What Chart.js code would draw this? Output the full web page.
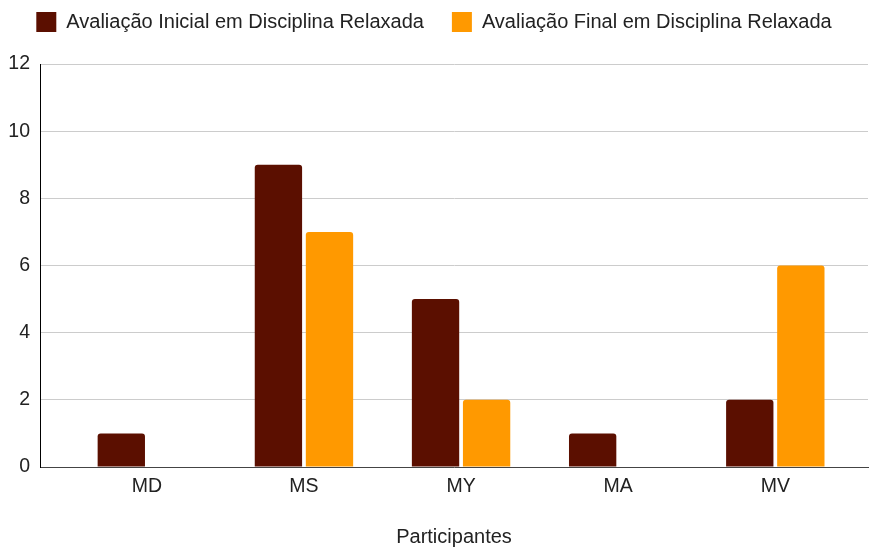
<!DOCTYPE html>
<html>
<head>
<meta charset="utf-8">
<script src="https://cdn.jsdelivr.net/npm/chart.js@4.4.0/dist/chart.umd.min.js"></script>
<style>
  html, body { margin: 0; padding: 0; background: #fff; }
  #caixa { width: 871px; height: 549px; }
</style>
</head>
<body>
<div id="caixa"><canvas id="grafico"></canvas></div>
<script>
// dados
const participantes = ["MD", "MS", "MY", "MA", "MV"];
const avaliacaoInicial = [1, 9, 5, 1, 2];
const avaliacaoFinal = [0, 7, 2, 0, 6];
const nomeInicial = "Avaliação Inicial em Disciplina Relaxada";
const nomeFinal = "Avaliação Final em Disciplina Relaxada";
const ticksY = [0, 2, 4, 6, 8, 10, 12];

const fonte = "'Liberation Sans', Arial, Helvetica, sans-serif";

// altura fixa da legenda (o padding grande e so para separar os itens)
const alturaLegenda = {
    id: "alturaLegenda",
    beforeInit(chart) {
        const fitOriginal = chart.legend.fit;
        chart.legend.fit = function () {
            fitOriginal.bind(chart.legend)();
            this.height = 80;
        };
    }
};

const data = {
    labels: participantes,
    datasets: [{
        label: nomeInicial,
        data: avaliacaoInicial,
        backgroundColor: "#5b0f00",
        borderRadius: 3,
        borderSkipped: "bottom"
    }, {
        label: nomeFinal,
        data: avaliacaoFinal,
        backgroundColor: "#ff9900",
        borderRadius: 3,
        borderSkipped: "bottom"
    }]
};

const config = {
    type: "bar",
    data: data,
    options: {
        responsive: true,
        maintainAspectRatio: false,
        animation: false,
        categoryPercentage: 0.65,
        barPercentage: 0.927,
        layout: { padding: { top: -16, right: 3, bottom: 0, left: 0 } },
        plugins: {
            legend: {
                position: "top",
                labels: {
                    boxWidth: 20,
                    boxHeight: 20,
                    padding: 28,
                    color: "#222",
                    font: { family: fonte, size: 20 }
                }
            },
            tooltip: { enabled: false }
        },
        scales: {
            x: {
                grid: { display: false },
                border: { color: "#444", width: 1 },
                afterBuildTicks: (scale) => {
                    // as categorias nao comecam colado no eixo y
                    scale._startValue = -0.68;
                    scale._valueRange = 5.27;
                },
                afterFit: (scale) => { scale.height = 82; },
                ticks: {
                    color: "#222",
                    padding: 0,
                    font: { family: fonte, size: 19.5 }
                },
                title: {
                    display: true,
                    text: "Participantes",
                    color: "#222",
                    padding: { top: 14, bottom: 0 },
                    font: { family: fonte, size: 20 }
                }
            },
            y: {
                min: 0,
                max: 12,
                afterBuildTicks: (scale) => {
                    scale.ticks = ticksY.map(v => ({ value: v }));
                },
                afterFit: (scale) => { scale.width = 40; },
                grid: { color: "#cccccc", drawTicks: false },
                border: { color: "#000", width: 1 },
                ticks: {
                    color: "#222",
                    padding: 10,
                    font: { family: fonte, size: 19.5 }
                }
            }
        }
    },
    plugins: [alturaLegenda]
};

const grafico = new Chart(document.getElementById("grafico"), config);
</script>
</body>
</html>
